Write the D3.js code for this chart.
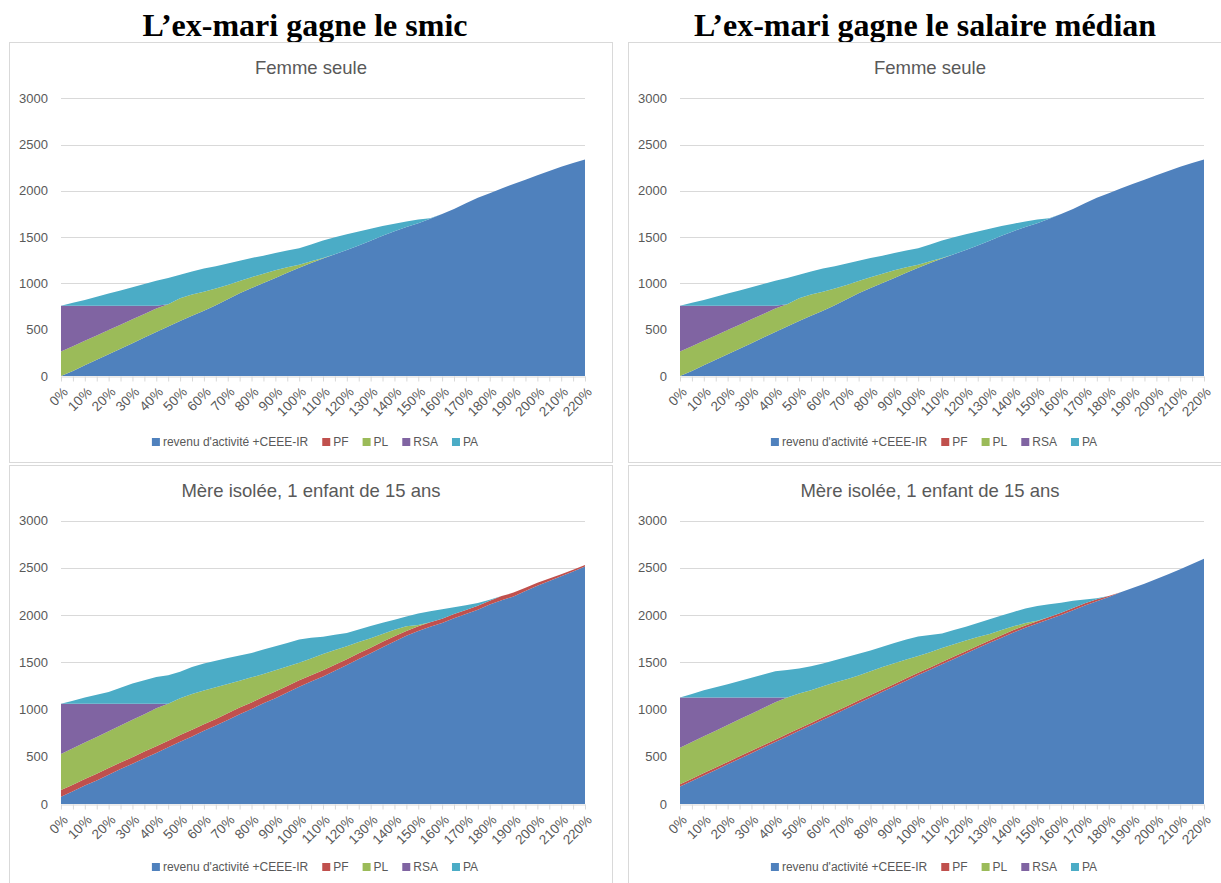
<!DOCTYPE html>
<html><head><meta charset="utf-8">
<script src="https://cdn.jsdelivr.net/npm/d3@7"></script>
<style>
body{margin:0;background:#fff}
svg{display:block}
text{font-family:"Liberation Sans",Arial,sans-serif}
</style>
</head><body>
<svg id="c" width="1221" height="883"></svg>
<script>
// ---------- DATA ----------
const categories = ["0%","5%","10%","15%","20%","25%","30%","35%","40%","45%",
  "50%","55%","60%","65%","70%","75%","80%","85%","90%","95%",
  "100%","105%","110%","115%","120%","125%","130%","135%","140%","145%",
  "150%","155%","160%","165%","170%","175%","180%","185%","190%","195%",
  "200%","205%","210%","215%","220%"];
const xTickLabels = ["0%","10%","20%","30%","40%","50%","60%","70%","80%","90%","100%",
  "110%","120%","130%","140%","150%","160%","170%","180%","190%","200%","210%","220%"];
const yTickValues = [0,500,1000,1500,2000,2500,3000];

const seriesNames = ["revenu d'activité +CEEE-IR","PF","PL","RSA","PA"];
const seriesColors = ["#4f81bd","#c0504d","#9bbb59","#8064a2","#4bacc6"];

const pageTitles = ["L’ex-mari gagne le smic","L’ex-mari gagne le salaire médian"];
const panelTitles = ["Femme seule","Mère isolée, 1 enfant de 15 ans"];

// Femme seule (identical under both hypotheses)
const fsRevenu = [0,55,115,175,235,295,355,415,475,535,595,650,705,765,830,895,950,1005,1060,1115,
  1170,1220,1270,1315,1360,1410,1460,1515,1565,1610,1650,1700,1750,1805,1865,1925,1975,2025,2075,2120,
  2170,2215,2260,2300,2340];
const fsPF = [0,0,0,0,0,0,0,0,0,0,0,0,0,0,0,0,0,0,0,0,0,0,0,0,0,0,0,0,0,0,0,0,0,0,0,0,0,0,0,0,0,0,0,0,0];
const fsPL = [264,267,265,263,261,259,257,255,253,240,245,230,206,180,152,130,118,100,83,60,
  33,20,5,0,0,0,0,0,0,0,0,0,0,0,0,0,0,0,0,0,0,0,0,0,0];
const fsRSA = [496,438,380,322,264,206,148,90,32,0,0,0,0,0,0,0,0,0,0,0,
  0,0,0,0,0,0,0,0,0,0,0,0,0,0,0,0,0,0,0,0,0,0,0,0,0];
const fsPA = [0,30,60,95,130,165,200,235,270,285,255,250,249,240,233,220,207,195,187,180,
  177,180,190,185,170,150,130,105,80,60,40,5,0,0,0,0,0,0,0,0,0,0,0,0,0];

// Mère isolée - ex-mari au smic
const msRevenu = [78,135,195,250,310,370,425,485,540,600,660,715,775,830,890,950,1005,1065,1120,1180,
  1240,1295,1350,1410,1470,1535,1595,1660,1720,1780,1830,1875,1915,1965,2010,2056,2110,2155,2197,2255,
  2310,2360,2410,2460,2512];
const msPF = [70,70,70,70,70,70,70,70,70,70,70,70,70,70,70,70,70,70,70,70,
  70,68,66,64,62,60,58,56,54,52,50,48,46,45,44,43,42,45,40,34,
  30,26,22,20,18];
const msPL = [381,385,385,390,390,391,396,396,402,392,390,380,355,335,310,285,265,240,225,205,
  185,177,170,156,138,120,102,84,71,50,15,0,0,0,0,0,0,0,0,0,0,0,0,0,0];
const msRSA = [531,470,410,350,290,229,169,109,48,0,0,0,0,0,0,0,0,0,0,0,
  0,0,0,0,0,0,0,0,0,0,0,0,0,0,0,0,0,0,0,0,0,0,0,0,0];
const msPA = [0,33,66,96,126,170,214,250,285,300,280,285,286,281,276,267,259,259,254,250,
  245,220,185,162,140,132,129,118,106,101,120,117,100,72,49,29,10,0,0,0,0,0,0,0,0];

// Mère isolée - ex-mari au salaire médian
const mmRevenu = [184,243,302,361,420,479,538,597,656,715,774,833,892,951,1010,1069,1128,1187,1246,1305,
  1364,1420,1478,1535,1592,1650,1706,1760,1815,1865,1910,1955,2000,2050,2100,2145,2190,2240,2285,2330,
  2380,2430,2485,2540,2595];
const mmPF = [25,25,25,25,25,25,25,25,25,25,25,25,25,25,25,25,25,25,25,25,
  25,25,25,25,25,25,25,25,25,25,25,25,25,25,25,22,12,0,0,0,0,0,0,0,0];
const mmPL = [387,388,389,390,391,392,393,394,395,388,371,347,328,309,285,266,252,238,219,200,
  176,160,147,130,113,92,69,55,40,25,5,0,0,0,0,0,0,0,0,0,0,0,0,0,0];
const mmRSA = [530,470,410,350,290,230,170,110,50,0,0,0,0,0,0,0,0,0,0,0,
  0,0,0,0,0,0,0,0,0,0,0,0,0,0,0,0,0,0,0,0,0,0,0,0,0];
const mmPA = [0,39,77,109,141,176,211,244,278,290,263,253,241,235,236,230,220,215,215,210,
  207,183,155,150,145,148,155,155,153,155,155,135,105,75,40,11,0,0,0,0,0,0,0,0,0];

// ---------- LAYOUT ----------
const svg = d3.select("#c");
const textColor = "#595959", gridColor = "#d9d9d9";
const keys = ["rev","PF","PL","RSA","PA"];

const panels = [
  {dx:0,   top:true,  series:[fsRevenu,fsPF,fsPL,fsRSA,fsPA], title:panelTitles[0]},
  {dx:619, top:true,  series:[fsRevenu,fsPF,fsPL,fsRSA,fsPA], title:panelTitles[0]},
  {dx:0,   top:false, series:[msRevenu,msPF,msPL,msRSA,msPA], title:panelTitles[1]},
  {dx:619, top:false, series:[mmRevenu,mmPF,mmPL,mmRSA,mmPA], title:panelTitles[1]}
];

// page titles
[305, 925].forEach((cx,i)=>{
  svg.append("text").attr("x",cx).attr("y",36).attr("text-anchor","middle")
    .style("font-family",'"Liberation Serif","Times New Roman",serif')
    .style("font-weight","bold").style("font-size","32px").attr("fill","#000")
    .text(pageTitles[i]);
});

panels.forEach(p=>{
  const L = p.top
    ? {boxY:42, boxH:420, y0:376, y1:98.3, titleY:74, legendY:442}
    : {boxY:465, boxH:418, y0:804, y1:520.5, titleY:497, legendY:867};
  const x0 = 61 + p.dx, x1 = 585 + p.dx;
  const g = svg.append("g");

  // panel border
  g.append("rect").attr("x",9+p.dx+0.5).attr("y",L.boxY+0.5)
    .attr("width",p.dx? 602:603).attr("height",L.boxH)
    .attr("fill","#fff").attr("stroke",gridColor).attr("stroke-width",1);

  const x = d3.scalePoint().domain(categories).range([x0,x1]);
  const y = d3.scaleLinear().domain([0,3000]).range([L.y0,L.y1]);

  // gridlines
  g.append("g").selectAll("line").data(yTickValues.filter(v=>v>0)).join("line")
    .attr("x1",x0).attr("x2",x1)
    .attr("y1",d=>Math.round(y(d))+0.5).attr("y2",d=>Math.round(y(d))+0.5)
    .attr("stroke",gridColor).attr("stroke-width",1);

  // stacked areas
  const rows = categories.map((c,i)=>{
    const r = {cat:c};
    keys.forEach((k,j)=>r[k]=p.series[j][i]);
    return r;
  });
  const stacked = d3.stack().keys(keys)(rows);
  const area = d3.area().x(d=>x(d.data.cat)).y0(d=>y(d[0])).y1(d=>y(d[1]));
  g.append("g").selectAll("path").data(stacked).join("path")
    .attr("d",area).attr("fill",(d,i)=>seriesColors[i]);

  // y labels
  g.append("g").selectAll("text").data(yTickValues).join("text")
    .attr("x",x0-13).attr("y",d=>y(d)).attr("dy","0.35em")
    .attr("text-anchor","end").attr("fill",textColor).style("font-size","13px")
    .text(d=>d);

  // x axis
  const ax = g.append("g").attr("transform",`translate(0,${Math.round(L.y0)+0.5})`)
    .call(d3.axisBottom(x).tickSize(5).tickSizeOuter(0)
      .tickFormat(d=>xTickLabels.includes(d)?d:""));
  ax.select(".domain").attr("stroke",gridColor);
  ax.selectAll(".tick line").attr("stroke",gridColor);
  ax.selectAll(".tick text").attr("fill",textColor).style("font-size","13.5px")
    .style("font-family",'"Liberation Sans",Arial,sans-serif')
    .attr("text-anchor","end").attr("x",0).attr("y",0).attr("dy","0.35em")
    .attr("transform","translate(4,13) rotate(-45)");

  // panel title
  g.append("text").attr("x",311+p.dx).attr("y",L.titleY).attr("text-anchor","middle")
    .attr("fill",textColor).style("font-size","18.5px").text(p.title);

  // legend
  const lg = g.append("g");
  const items = lg.selectAll("g").data(seriesNames).join("g");
  items.append("rect").attr("width",8).attr("height",8).attr("y",-4)
    .attr("fill",(d,i)=>seriesColors[i]);
  items.append("text").attr("x",11).attr("dy","0.35em").attr("fill",textColor)
    .style("font-size","12px").text(d=>d);
  let cx = 0;
  items.each(function(){
    d3.select(this).attr("transform",`translate(${cx},0)`);
    cx += 11 + d3.select(this).select("text").node().getComputedTextLength() + 14;
  });
  const total = cx - 14;
  lg.attr("transform",`translate(${315+p.dx-total/2},${L.legendY})`);
});
</script>
</body></html>
